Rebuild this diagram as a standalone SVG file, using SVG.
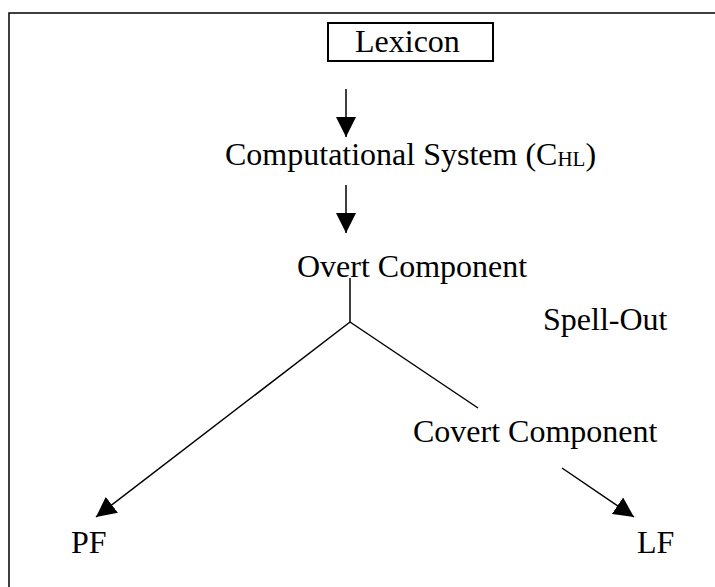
<svg xmlns="http://www.w3.org/2000/svg" width="715" height="587" viewBox="0 0 715 587">
<style>
text{font-family:"Liberation Serif","Times New Roman",serif;font-size:32px;fill:#000}
.ln{stroke:#000;stroke-width:1.5;fill:none}
</style>
<defs>
<marker id="ah" markerUnits="userSpaceOnUse" markerWidth="20" markerHeight="20" refX="20" refY="10" orient="auto" viewBox="0 0 20 20">
<path d="M0,0 L20,10 L0,20 z" fill="#000"/>
</marker>
</defs>
<rect width="715" height="587" fill="#fff"/>
<path class="ln" d="M9,600 V13 H730" stroke-width="2"/>
<g id="lexicon">
<rect x="328" y="23" width="165" height="38" fill="none" stroke="#000" stroke-width="2"/>
<text x="355" y="52">Lexicon</text>
</g>
<g id="chl">
<text x="225" y="165">Computational System (C<tspan font-size="21" dy="1">HL</tspan><tspan dy="-1">)</tspan></text>
</g>
<g id="overt"><text x="297" y="277">Overt Component</text></g>
<g id="spellout"><text x="543" y="330">Spell-Out</text></g>
<g id="covert"><text x="413" y="442">Covert Component</text></g>
<g id="pf"><text x="71" y="553">PF</text></g>
<g id="lf"><text x="637" y="553">LF</text></g>
<g id="connectors">
<line class="ln" x1="346" y1="89" x2="346" y2="137" marker-end="url(#ah)"/>
<line class="ln" x1="346" y1="185" x2="346" y2="233" marker-end="url(#ah)"/>
<line class="ln" x1="350" y1="278" x2="350" y2="322"/>
<line class="ln" x1="350" y1="322" x2="96" y2="517" marker-end="url(#ah)"/>
<line class="ln" x1="350" y1="322" x2="478" y2="408"/>
<line class="ln" x1="562" y1="468" x2="634" y2="517" marker-end="url(#ah)"/>
</g>
</svg>
